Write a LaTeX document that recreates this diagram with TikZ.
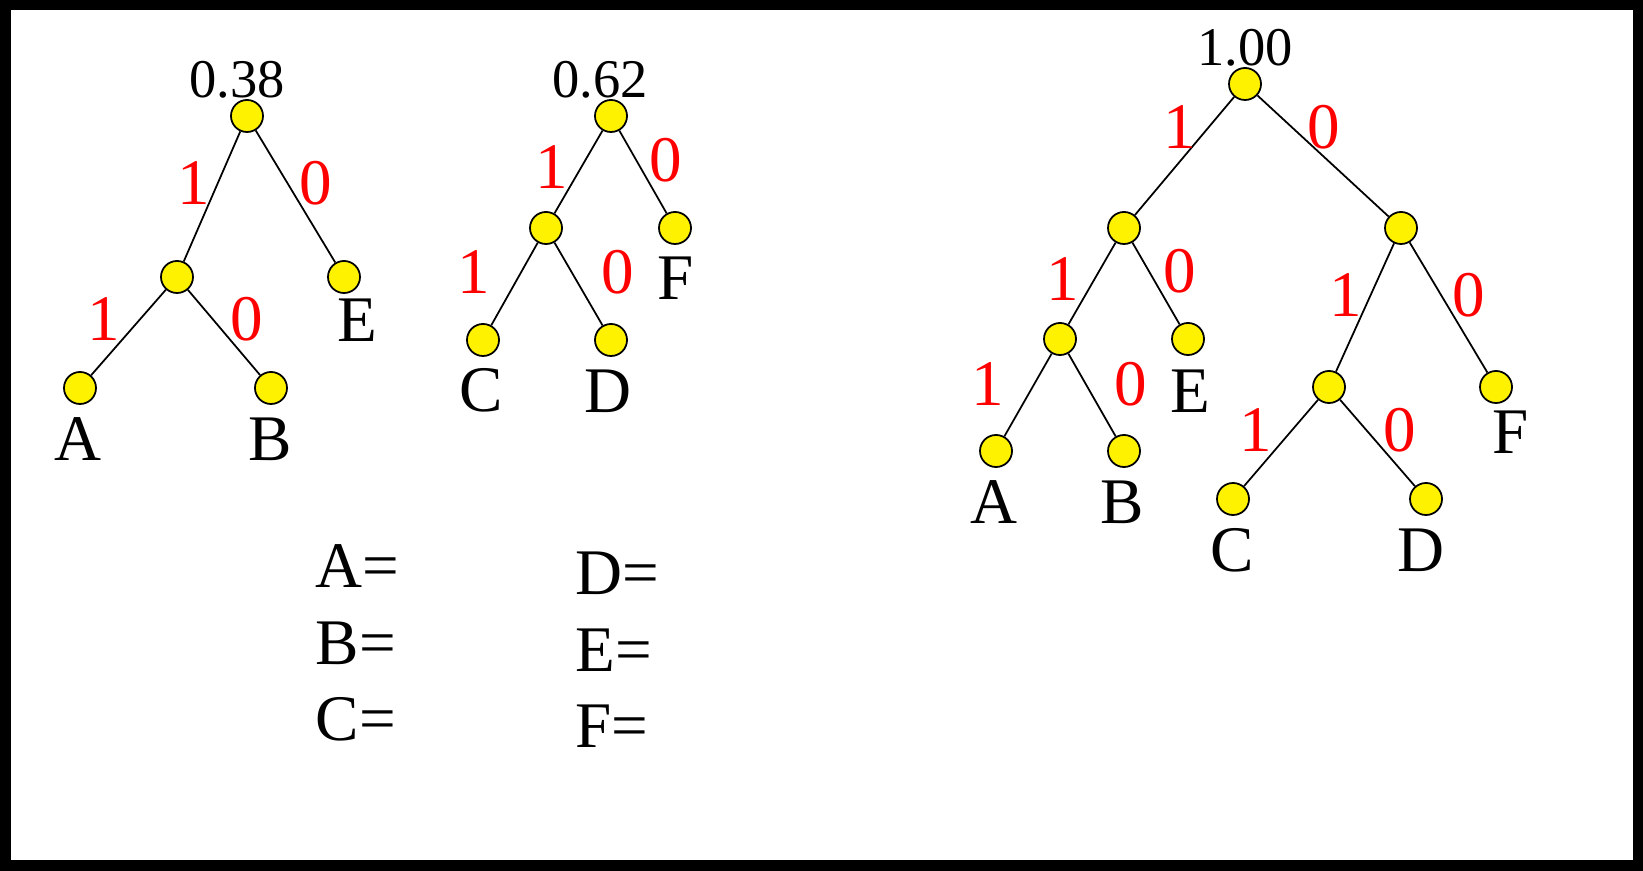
\documentclass[tikz,border=0pt]{standalone}
\usepackage{fontspec}
\setmainfont{Liberation Serif}
\begin{document}
\begin{tikzpicture}[x=0.01cm,y=-0.01cm,
  vtx/.style={circle,draw,fill=yellow,line width=0.5pt,inner sep=0pt,minimum size=0.32cm},
  branch/.style={line width=0.5pt},
  bit/.style={text=red,font=\fontsize{18.5}{18.5}\selectfont,inner sep=0pt},
  sym/.style={font=\fontsize{18.5}{18.5}\selectfont,inner sep=0pt},
  wt/.style={font=\fontsize{15.5}{15.5}\selectfont,inner sep=0pt}]
 \useasboundingbox (0,0) rectangle (1643,871);
 \draw[line width=0.105cm] (5.25,5.25) rectangle (1637.75,865.75);
 % tree 0.38
 \node[vtx] (r1) at (247,116) {}; \node[vtx] (m1) at (177,277) {};
 \node[vtx] (e1) at (344,277) {}; \node[vtx] (a1) at (80,388) {};
 \node[vtx] (b1) at (271,388) {};
 \draw[branch] (r1)--(m1) (r1)--(e1) (m1)--(a1) (m1)--(b1);
 \node[wt] (w1) at (237,80) {0.38};
 \node[bit] at (194,183) {1}; \node[bit] at (316,183) {0};
 \node[bit] at (104,319) {1}; \node[bit] at (247,319) {0};
 \node[sym] at (357,320) {E}; \node[sym] at (78,439) {A}; \node[sym] at (270,439) {B};
 % tree 0.62
 \node[vtx] (r2) at (611,116) {}; \node[vtx] (m2) at (546,228) {};
 \node[vtx] (f2) at (675,228) {}; \node[vtx] (c2) at (483,340) {};
 \node[vtx] (d2) at (611,340) {};
 \draw[branch] (r2)--(m2) (r2)--(f2) (m2)--(c2) (m2)--(d2);
 \node[wt] (w2) at (600,80) {0.62};
 \node[bit] at (552,167) {1}; \node[bit] at (666,160) {0};
 \node[bit] at (474,272) {1}; \node[bit] at (618,272) {0};
 \node[sym] at (676,278) {F}; \node[sym] at (481,390) {C}; \node[sym] at (608,391) {D};
 % tree 1.00
 \node[vtx] (r3) at (1245,84) {};
 \node[vtx] (l3) at (1124,228) {}; \node[vtx] (q3) at (1401,228) {};
 \node[vtx] (ll3) at (1060,339) {}; \node[vtx] (e3) at (1188,339) {};
 \node[vtx] (a3) at (996,451) {}; \node[vtx] (b3) at (1124,451) {};
 \node[vtx] (ql3) at (1329,387) {}; \node[vtx] (f3) at (1496,387) {};
 \node[vtx] (c3) at (1233,499) {}; \node[vtx] (d3) at (1426,499) {};
 \draw[branch] (r3)--(l3) (r3)--(q3) (l3)--(ll3) (l3)--(e3) (ll3)--(a3) (ll3)--(b3)
   (q3)--(ql3) (q3)--(f3) (ql3)--(c3) (ql3)--(d3);
 \node[wt] (w3) at (1245,48) {1.00};
 \node[bit] at (1180,127) {1}; \node[bit] at (1324,127) {0};
 \node[bit] at (1063,279) {1}; \node[bit] at (1180,271) {0};
 \node[bit] at (988,384) {1}; \node[bit] at (1131,384) {0};
 \node[bit] at (1346,295) {1}; \node[bit] at (1469,295) {0};
 \node[bit] at (1256,430) {1}; \node[bit] at (1400,430) {0};
 \node[sym] at (1190,391) {E}; \node[sym] at (1511,432) {F};
 \node[sym] at (994,502) {A}; \node[sym] at (1122,502) {B};
 \node[sym] at (1232,550) {C}; \node[sym] at (1421,550) {D};
 % code table
 \node[sym,anchor=base west] (ka) at (315,588) {A=};
 \node[sym,anchor=base west] (kb) at (315,665) {B=};
 \node[sym,anchor=base west] (kc) at (315,741) {C=};
 \node[sym,anchor=base west] (kd) at (575,595) {D=};
 \node[sym,anchor=base west] (ke) at (575,672) {E=};
 \node[sym,anchor=base west] (kf) at (575,748) {F=};
\end{tikzpicture}
\end{document}
